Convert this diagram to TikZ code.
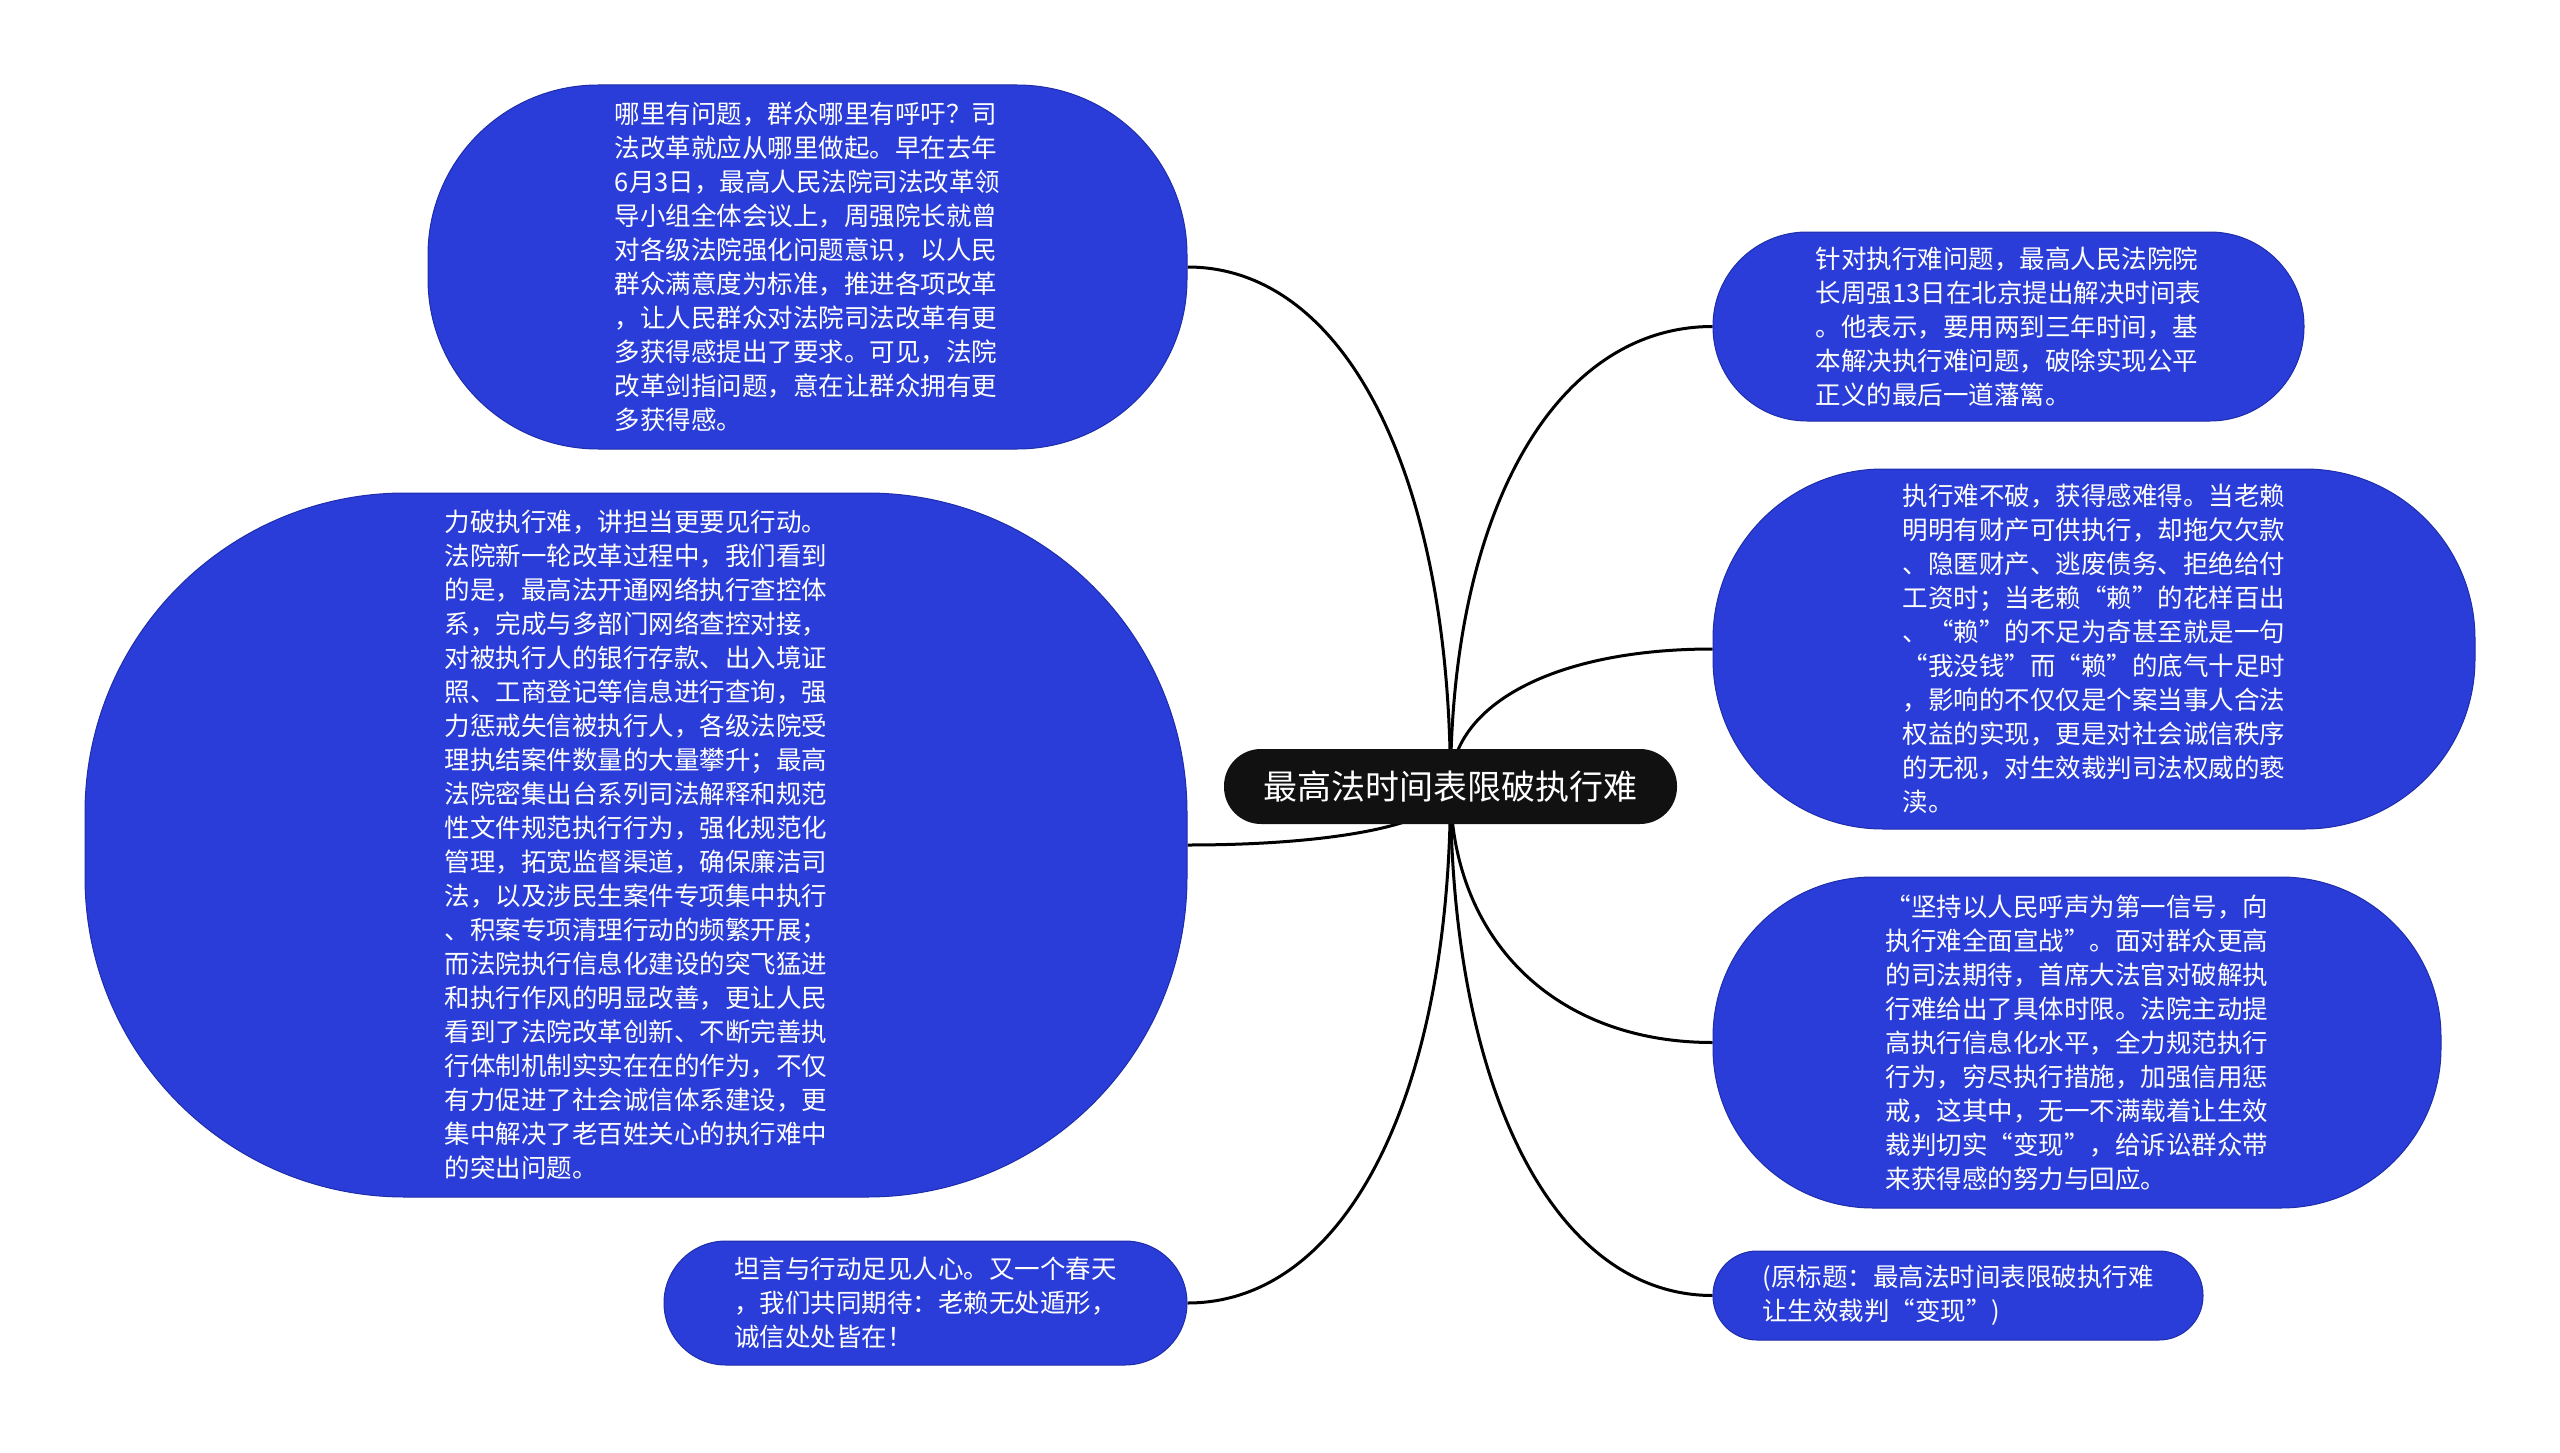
\documentclass[tikz,border=0pt]{standalone}
\usepackage{fontspec}
\setmainfont{Noto Sans CJK SC}
\usetikzlibrary{calc,backgrounds}

\definecolor{topicblue}{RGB}{42,61,216}
\definecolor{topicedge}{RGB}{30,45,170}
\definecolor{rootblack}{RGB}{17,17,17}

\tikzset{
  topic/.style={draw=topicedge, line width=1pt, fill=topicblue, text=white,
    inner sep=0pt, align=left, font=\fontsize{25.5}{34}\selectfont},
  root/.style={fill=rootblack, text=white, inner sep=0pt,
    minimum width=453pt, minimum height=75pt, rounded corners=37pt,
    font=\fontsize{34}{40}\selectfont},
  branch/.style={draw, line width=3pt, black,
    to path={.. controls ($(\tikztostart)!0.6!(\tikztostart |- \tikztotarget)$)
      and ($(\tikztotarget)!0.6!(\tikztostart |- \tikztotarget)$) .. (\tikztotarget)}}
}

\begin{document}
\begin{tikzpicture}[x=1pt, y=-1pt]
    \useasboundingbox (0,0) rectangle (2560,1453);

    \node[root] (title) at (1450.5,786.5) {最高法时间表限破执行难};

    % left side
    \node[topic, minimum width=759pt, minimum height=364pt, rounded corners=170pt]
      (wenti) at (807.5,267) {哪里有问题，群众哪里有呼吁？司\\法改革就应从哪里做起。早在去年\\6月3日，最高人民法院司法改革领\\导小组全体会议上，周强院长就曾\\对各级法院强化问题意识，以人民\\群众满意度为标准，推进各项改革\\，让人民群众对法院司法改革有更\\多获得感提出了要求。可见，法院\\改革剑指问题，意在让群众拥有更\\多获得感。};
    \node[topic, minimum width=1102pt, minimum height=704pt, rounded corners=320pt]
      (xingdong) at (636,845) {力破执行难，讲担当更要见行动。\\法院新一轮改革过程中，我们看到\\的是，最高法开通网络执行查控体\\系，完成与多部门网络查控对接，\\对被执行人的银行存款、出入境证\\照、工商登记等信息进行查询，强\\力惩戒失信被执行人，各级法院受\\理执结案件数量的大量攀升；最高\\法院密集出台系列司法解释和规范\\性文件规范执行行为，强化规范化\\管理，拓宽监督渠道，确保廉洁司\\法，以及涉民生案件专项集中执行\\、积案专项清理行动的频繁开展；\\而法院执行信息化建设的突飞猛进\\和执行作风的明显改善，更让人民\\看到了法院改革创新、不断完善执\\行体制机制实实在在的作为，不仅\\有力促进了社会诚信体系建设，更\\集中解决了老百姓关心的执行难中\\的突出问题。};
    \node[topic, minimum width=523pt, minimum height=124pt, rounded corners=62pt]
      (qidai) at (925.5,1303) {坦言与行动足见人心。又一个春天\\，我们共同期待：老赖无处遁形，\\诚信处处皆在！};

    % right side
    \node[topic, minimum width=591pt, minimum height=189pt, rounded corners=94pt]
      (shijian) at (2008.5,326.5) {针对执行难问题，最高人民法院院\\长周强13日在北京提出解决时间表\\。他表示，要用两到三年时间，基\\本解决执行难问题，破除实现公平\\正义的最后一道藩篱。};
    \node[topic, minimum width=762pt, minimum height=360pt, rounded corners=170pt]
      (laolai) at (2094,649) {执行难不破，获得感难得。当老赖\\明明有财产可供执行，却拖欠欠款\\、隐匿财产、逃废债务、拒绝给付\\工资时；当老赖“赖”的花样百出\\、“赖”的不足为奇甚至就是一句\\“我没钱”而“赖”的底气十足时\\，影响的不仅仅是个案当事人合法\\权益的实现，更是对社会诚信秩序\\的无视，对生效裁判司法权威的亵\\渎。};
    \node[topic, minimum width=728pt, minimum height=331pt, rounded corners=160pt]
      (xuanzhan) at (2077,1042.5) {“坚持以人民呼声为第一信号，向\\执行难全面宣战”。面对群众更高\\的司法期待，首席大法官对破解执\\行难给出了具体时限。法院主动提\\高执行信息化水平，全力规范执行\\行为，穷尽执行措施，加强信用惩\\戒，这其中，无一不满载着让生效\\裁判切实“变现”，给诉讼群众带\\来获得感的努力与回应。};
    \node[topic, minimum width=490pt, minimum height=89pt, rounded corners=44pt]
      (yuan) at (1958,1295.5) {(原标题：最高法时间表限破执行难\\让生效裁判“变现”)};

    \begin{scope}[on background layer]
    \path
    (title.center) edge[branch] (wenti.east)
    (title.center) edge[branch] (xingdong.east)
    (title.center) edge[branch] (qidai.east)
    (title.center) edge[branch] (shijian.west)
    (title.center) edge[branch] (laolai.west)
    (title.center) edge[branch] (xuanzhan.west)
    (title.center) edge[branch] (yuan.west)
    ;
    \end{scope}

  \end{tikzpicture}
\end{document}
